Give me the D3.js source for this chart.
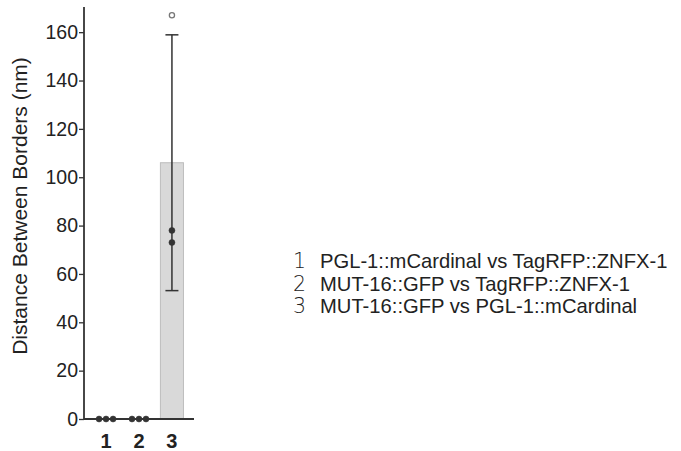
<!DOCTYPE html>
<html><head><meta charset="utf-8">
<script src="https://cdn.jsdelivr.net/npm/d3@7"></script>
<style>body{margin:0;background:#fff}svg{display:block}</style>
</head><body>
<svg id="c" width="681" height="451"></svg>
<script>
const categories = ["1","2","3"];
const means = [0, 0, 106];
const sds = [0, 0, 52.9];
const points = [[0,0,0],[0,0,0],[78,73,167]];
const outlier = [[false,false,false],[false,false,false],[false,false,true]];
const yTicks = [0,20,40,60,80,100,120,140,160];
const legendNums = ["1","2","3"];
const legendLabels = ["PGL-1::mCardinal vs TagRFP::ZNFX-1","MUT-16::GFP vs TagRFP::ZNFX-1","MUT-16::GFP vs PGL-1::mCardinal"];

const svg = d3.select("#c");
const font = "Liberation Sans, Arial, sans-serif";
const y = d3.scaleLinear().domain([0,170]).range([419,8]);
const x = d3.scaleBand().domain(categories).range([84,194]).paddingInner(0.3).paddingOuter(0.32);
const ink = "#333";

// bars
svg.selectAll("rect.bar").data(categories).enter().append("rect")
  .attr("x", d=>x(d)).attr("width", x.bandwidth())
  .attr("y", (d,i)=>y(means[i])).attr("height",(d,i)=>y(0)-y(means[i]))
  .attr("fill","#d9d9d9").attr("stroke","#bdbdbd").attr("stroke-width",1);

// error bars
categories.forEach((c,i)=>{
  if (sds[i] <= 0) return;
  const cx = x(c)+x.bandwidth()/2;
  const g = svg.append("g").attr("stroke",ink).attr("stroke-width",1.5);
  g.append("line").attr("x1",cx).attr("x2",cx).attr("y1",y(means[i]+sds[i])).attr("y2",y(means[i]-sds[i]));
  g.append("line").attr("x1",cx-6.5).attr("x2",cx+6.5).attr("y1",y(means[i]+sds[i])).attr("y2",y(means[i]+sds[i]));
  g.append("line").attr("x1",cx-6.5).attr("x2",cx+6.5).attr("y1",y(means[i]-sds[i])).attr("y2",y(means[i]-sds[i]));
});

// points
categories.forEach((c,i)=>{
  const cx = x(c)+x.bandwidth()/2;
  const vals = points[i];
  const allSame = vals.every(v=>v===vals[0]);
  vals.forEach((v,j)=>{
    const dx = allSame ? (j-1)*7 : 0;
    const o = outlier[i][j];
    svg.append("circle").attr("cx",cx+dx).attr("cy",y(v)).attr("r", o?2.6:3)
      .attr("fill", o?"#fff":ink).attr("stroke", o?"#777":ink).attr("stroke-width", o?1.3:0.5);
  });
});

// y axis
const ya = svg.append("g").attr("transform","translate(84,0)")
  .call(d3.axisLeft(y).tickValues(yTicks).tickSize(5).tickPadding(1));
ya.select(".domain").attr("stroke",ink).attr("stroke-width",1.8).attr("d","M0,7V419");
ya.selectAll(".tick line").attr("stroke",ink).attr("stroke-width",1.3);
ya.selectAll(".tick text").attr("font-family",font).attr("font-size",19.5).attr("fill","#222");

// x axis
const xa = svg.append("g").attr("transform","translate(0,419)")
  .call(d3.axisBottom(x).tickSize(0).tickPadding(0));
xa.select(".domain").attr("stroke",ink).attr("stroke-width",1.8).attr("d","M84,0H194");
xa.selectAll(".tick text").attr("dy",null).attr("y",29)
  .attr("font-family",font).attr("font-size",20).attr("font-weight","bold").attr("fill","#222");

// y title
svg.append("text").attr("transform","translate(27,206) rotate(-90)")
  .attr("text-anchor","middle").attr("font-family",font).attr("font-size",21).attr("fill","#222")
  .text("Distance Between Borders (nm)");

// legend
legendLabels.forEach((t,i)=>{
  const ly = 268 + i*22.5;
  svg.append("text").attr("x",293).attr("y",ly).attr("font-family","DejaVu Sans, sans-serif").attr("font-weight","200")
    .attr("font-size",20.5).attr("fill","#222").text(legendNums[i]);
  svg.append("text").attr("x",320).attr("y",ly).attr("font-family",font)
    .attr("font-size",20.2).attr("fill","#222").text(t);
});
</script>
</body></html>
